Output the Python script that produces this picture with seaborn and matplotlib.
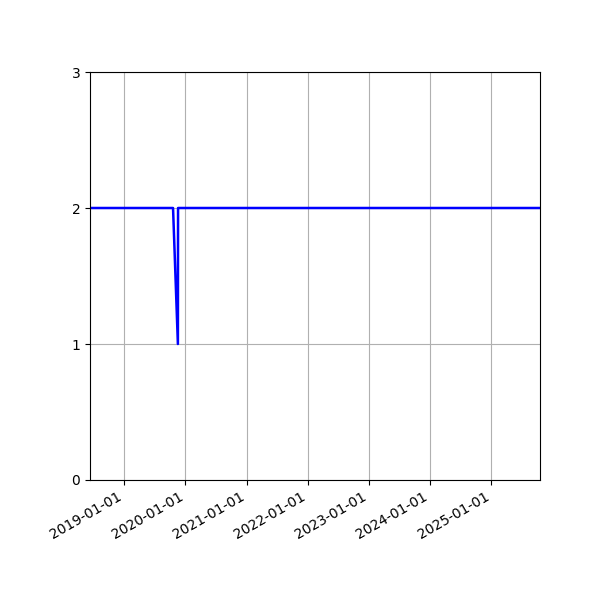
import matplotlib
matplotlib.use("Agg")
import matplotlib.pyplot as plt
import matplotlib.dates as mdates
import seaborn as sns
import pandas as pd

dates = ["2018-06-10", "2019-10-19", "2019-11-17", "2019-11-18", "2025-10-19"]
values = [2, 2, 1, 2, 2]

df = pd.DataFrame({"date": pd.to_datetime(dates), "value": values})

fig, ax = plt.subplots(figsize=(6, 6), dpi=100)
sns.lineplot(data=df, x="date", y="value", color="blue", linewidth=1.8, ax=ax)
ax.set_xlim(df["date"].min(), df["date"].max())
ax.set_ylim(0, 3)
ax.set_yticks([0, 1, 2, 3])
ax.xaxis.set_major_locator(mdates.YearLocator())
ax.xaxis.set_major_formatter(mdates.DateFormatter("%Y-%m-%d"))
ax.grid(True)
ax.set_xlabel("")
ax.set_ylabel("")
fig.autofmt_xdate()
fig.subplots_adjust(left=0.15, right=0.9, top=0.88, bottom=0.2)
fig.savefig("out.png", dpi=100)
